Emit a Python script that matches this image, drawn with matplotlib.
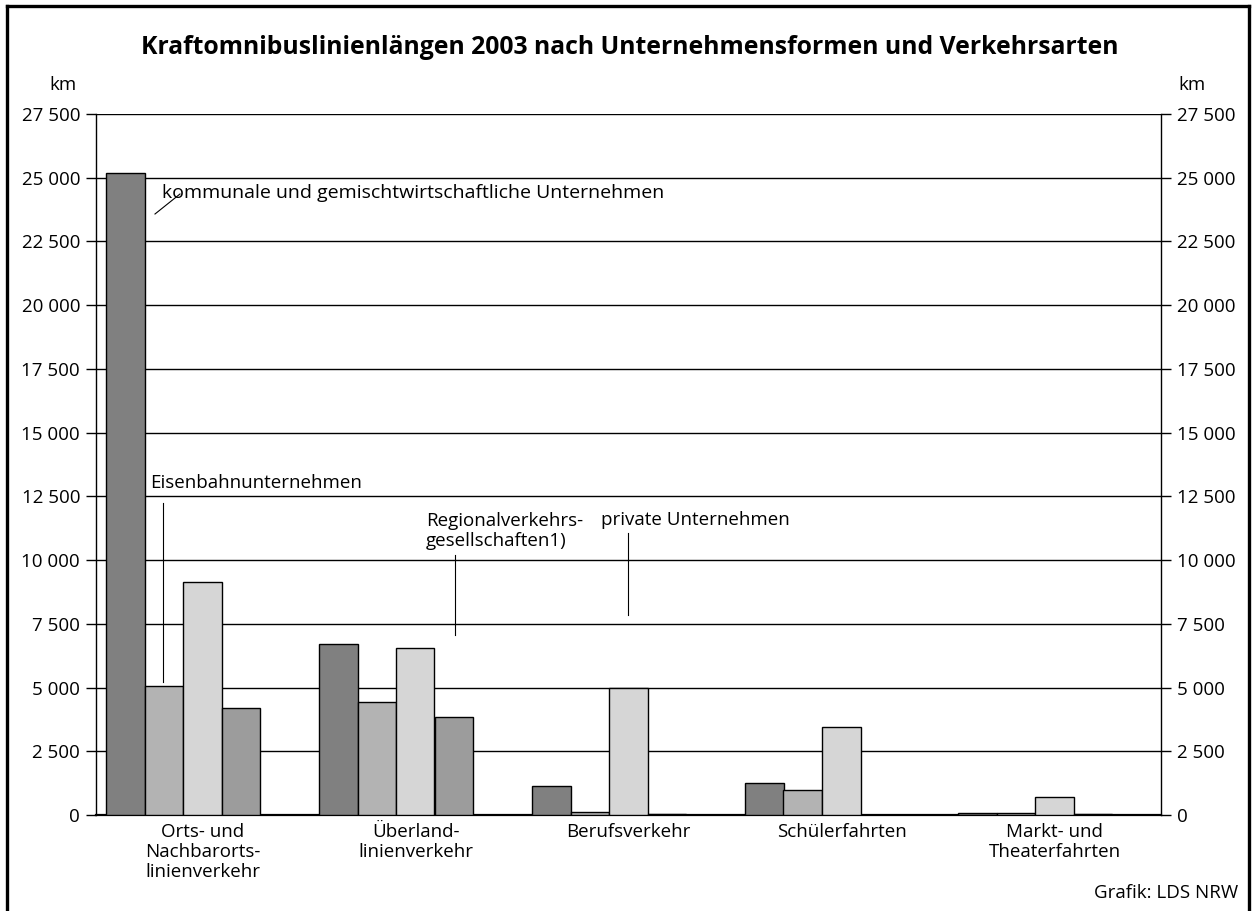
import matplotlib
matplotlib.use("Agg")
import matplotlib.pyplot as plt
from matplotlib.lines import Line2D
import numpy as np

plt.rcParams['font.family'] = ['Open Sans', 'DejaVu Sans']

categories = ["Orts- und\nNachbarorts-\nlinienverkehr", "Überland-\nlinienverkehr",
              "Berufsverkehr", "Schülerfahrten", "Markt- und\nTheaterfahrten"]
series_names = ["kommunale und gemischtwirtschaftliche Unternehmen",
                "Eisenbahnunternehmen",
                "private Unternehmen",
                "Regionalverkehrs-\ngesellschaften1)"]
kommunale = [25200, 6700, 1140, 1250, 70]
eisenbahn = [5050, 4450, 100, 1000, 60]
private = [9150, 6550, 5000, 3450, 700]
regional = [4190, 3850, 20, 10, 20]
yticks = [0, 2500, 5000, 7500, 10000, 12500, 15000, 17500, 20000, 22500, 25000, 27500]
ytick_labels = ["0", "2 500", "5 000", "7 500", "10 000", "12 500", "15 000",
                "17 500", "20 000", "22 500", "25 000", "27 500"]

colors = ["#808080", "#b3b3b3", "#d6d6d6", "#9c9c9c"]

W, H = 1256, 911
fig = plt.figure(figsize=(W / 100, H / 100), dpi=100)
ax = fig.add_axes([96 / W, 1 - 815 / H, (1161 - 96) / W, (815 - 114) / H])

x = np.arange(len(categories))
bw = 38.5 / 213
off0 = 10 / 213
for k, vals in enumerate([kommunale, eisenbahn, private, regional]):
    ax.bar(x + off0 + k * bw, vals, width=bw, align='edge', color=colors[k],
           edgecolor='black', linewidth=1.0, zorder=3)

fs = 13.5
ax.set_xlim(0, 5)
ax.set_ylim(0, 27500)
ax.set_yticks(yticks, ytick_labels)
ax.yaxis.grid(True, color='black', linewidth=1.0)
ax.set_axisbelow(True)
ax.tick_params(axis='y', left=True, right=True, labelleft=True, labelright=True,
               length=7.5, width=1.0, labelsize=fs, pad=4, color='black')
ax.set_xticks(x + 0.5, categories)
ax.tick_params(axis='x', length=0, labelsize=fs, pad=6)
for lab in ax.get_xticklabels():
    lab.set_linespacing(1.12)
ax.spines['top'].set_visible(False)
ax.spines['left'].set_linewidth(1.0)
ax.spines['right'].set_linewidth(1.0)
ax.spines['bottom'].set_linewidth(1.6)

# annotations
def px2x(px):
    return (px - 96) / 213

def py2v(py):
    return (815 - py) * 27500 / (815 - 114)

ax.text(px2x(162), py2v(193), series_names[0], fontsize=14, va='center', ha='left')
ax.plot([px2x(155), px2x(180)], [py2v(214), py2v(194)], color='black', lw=0.8, zorder=4)
ax.text(px2x(150), py2v(483), series_names[1], fontsize=fs, va='center', ha='left')
ax.plot([px2x(163), px2x(163)], [py2v(503), py2v(682)], color='black', lw=0.8, zorder=4)
ax.text(px2x(426), py2v(531), series_names[3], fontsize=fs, va='center', ha='left',
        linespacing=1.12)
ax.plot([px2x(455), px2x(455)], [py2v(555), py2v(635)], color='black', lw=0.8, zorder=4)
ax.text(px2x(601), py2v(520), series_names[2], fontsize=fs, va='center', ha='left')
ax.plot([px2x(628), px2x(628)], [py2v(533), py2v(615)], color='black', lw=0.8, zorder=4)

# titles and units
fig.text(630 / W, 1 - 48 / H, "Kraftomnibuslinienlängen 2003 nach Unternehmensformen und Verkehrsarten",
         ha='center', va='center', fontsize=17.8, fontweight='bold')
fig.text(77 / W, 1 - 85 / H, "km", ha='right', va='center', fontsize=fs)
fig.text(1178 / W, 1 - 85 / H, "km", ha='left', va='center', fontsize=fs)
fig.text(1238 / W, 1 - 893 / H, "Grafik: LDS NRW", ha='right', va='center', fontsize=fs)

# frame
lw = 2.4
fig.add_artist(Line2D([7 / W, 7 / W], [-0.01, 1 - 6 / H], color='black', lw=lw))
fig.add_artist(Line2D([1249 / W, 1249 / W], [-0.01, 1 - 6 / H], color='black', lw=lw))
fig.add_artist(Line2D([7 / W, 1249 / W], [1 - 6 / H, 1 - 6 / H], color='black', lw=lw))

fig.savefig("out.png", dpi=100)
